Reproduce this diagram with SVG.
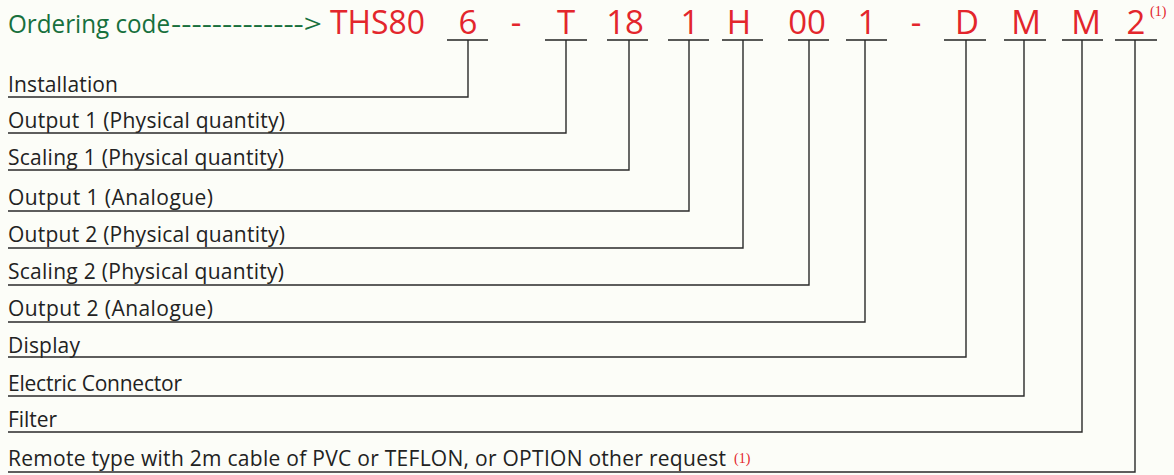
<svg xmlns="http://www.w3.org/2000/svg" width="1174" height="475" viewBox="0 0 1174 475">
<style>
.bg{fill:#fcfdf8}
.hdr{font-family:"Open Sans","Noto Sans","Liberation Sans",sans-serif;font-size:26px;fill:#17703d}
.code{font-family:"Open Sans","Noto Sans","Liberation Sans",sans-serif;font-size:33px;fill:#e3262c;text-anchor:middle}
.lbl{font-family:"Open Sans","Noto Sans","Liberation Sans",sans-serif;font-size:21px;fill:#222}
.note{font-family:"Liberation Serif","DejaVu Serif",serif;font-size:14px;fill:#e3262c}
.ul{stroke:#222;stroke-width:1.4;fill:none}
.conn{stroke:#2a2a2a;stroke-width:1.4;fill:none}
</style>
<rect class="bg" x="0" y="0" width="1174" height="475"/>
<g id="header">
<text class="hdr" x="8" y="33"><tspan textLength="162" lengthAdjust="spacingAndGlyphs">Ordering code</tspan><tspan x="171" textLength="151" lengthAdjust="spacingAndGlyphs">-------------&gt;</tspan></text>
<text class="code" x="330" y="34" style="text-anchor:start" textLength="95" lengthAdjust="spacingAndGlyphs">THS80</text>
<text class="code" x="516" y="34">-</text>
<text class="code" x="916" y="34">-</text>
<text class="note" x="1150" y="16">(1)</text>
</g>
<g id="code-installation"><text class="code" x="468" y="34">6</text><line class="ul" x1="447" y1="40" x2="488" y2="40"/></g>
<g id="code-output1-phys"><text class="code" x="566" y="34">T</text><line class="ul" x1="545" y1="40" x2="587" y2="40"/></g>
<g id="code-scaling1"><text class="code" x="625" y="34">18</text><line class="ul" x1="607" y1="40" x2="648" y2="40"/></g>
<g id="code-output1-analog"><text class="code" x="690" y="34">1</text><line class="ul" x1="668" y1="40" x2="709" y2="40"/></g>
<g id="code-output2-phys"><text class="code" x="739" y="34">H</text><line class="ul" x1="722" y1="40" x2="763" y2="40"/></g>
<g id="code-scaling2"><text class="code" x="807" y="34">00</text><line class="ul" x1="788" y1="40" x2="829" y2="40"/></g>
<g id="code-output2-analog"><text class="code" x="867" y="34">1</text><line class="ul" x1="846" y1="40" x2="887" y2="40"/></g>
<g id="code-display"><text class="code" x="967" y="34">D</text><line class="ul" x1="944" y1="40" x2="986" y2="40"/></g>
<g id="code-connector"><text class="code" x="1026" y="34">M</text><line class="ul" x1="1004" y1="40" x2="1046" y2="40"/></g>
<g id="code-filter"><text class="code" x="1086" y="34">M</text><line class="ul" x1="1062" y1="40" x2="1103" y2="40"/></g>
<g id="code-remote"><text class="code" x="1136" y="34">2</text><line class="ul" x1="1115" y1="40" x2="1157" y2="40"/></g>
<g id="label-installation"><text class="lbl" x="8" y="92" textLength="110">Installation</text></g>
<g id="label-output1-phys"><text class="lbl" x="8" y="128" textLength="277">Output 1 (Physical quantity)</text></g>
<g id="label-scaling1"><text class="lbl" x="8" y="165" textLength="276">Scaling 1 (Physical quantity)</text></g>
<g id="label-output1-analog"><text class="lbl" x="8" y="205" textLength="205">Output 1 (Analogue)</text></g>
<g id="label-output2-phys"><text class="lbl" x="8" y="242" textLength="277">Output 2 (Physical quantity)</text></g>
<g id="label-scaling2"><text class="lbl" x="8" y="279" textLength="276">Scaling 2 (Physical quantity)</text></g>
<g id="label-output2-analog"><text class="lbl" x="8" y="316" textLength="205">Output 2 (Analogue)</text></g>
<g id="label-display"><text class="lbl" x="8" y="353" textLength="72">Display</text></g>
<g id="label-connector"><text class="lbl" x="8" y="391" textLength="174">Electric Connector</text></g>
<g id="label-filter"><text class="lbl" x="8" y="427" textLength="49">Filter</text></g>
<g id="label-remote"><text class="lbl" x="8" y="466" textLength="718">Remote type with 2m cable of PVC or TEFLON, or OPTION other request</text><text class="note" x="734" y="463">(1)</text></g>
<g id="connectors">
<polyline class="conn" points="468,40 468,97 8,97"/>
<polyline class="conn" points="566,40 566,133 8,133"/>
<polyline class="conn" points="629,40 629,170 8,170"/>
<polyline class="conn" points="689,40 689,211 8,211"/>
<polyline class="conn" points="743,40 743,248 8,248"/>
<polyline class="conn" points="809,40 809,285 8,285"/>
<polyline class="conn" points="865,40 865,322 8,322"/>
<polyline class="conn" points="966,40 966,357 8,357"/>
<polyline class="conn" points="1024,40 1024,396 8,396"/>
<polyline class="conn" points="1082,40 1082,432 8,432"/>
<polyline class="conn" points="1135,40 1135,472 8,472"/>
</g>
</svg>
